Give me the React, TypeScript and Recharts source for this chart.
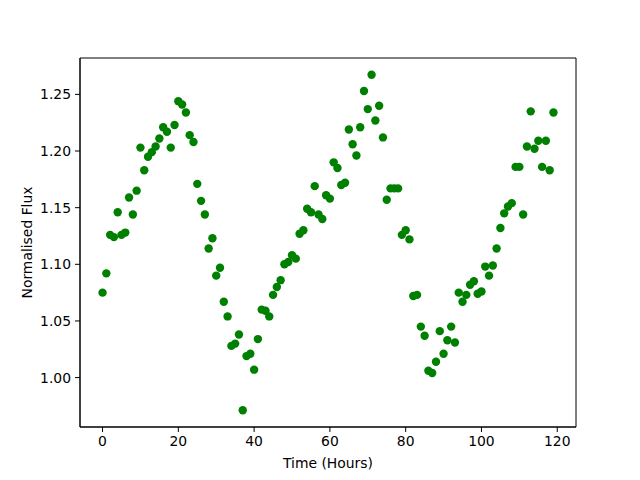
import React from 'react';
import { ScatterChart, Scatter, XAxis, YAxis, ReferenceArea } from 'recharts';

const times = [
  0, 1, 2, 3, 4, 5, 6, 7, 8, 9,
  10, 11, 12, 13, 14, 15, 16, 17, 18, 19,
  20, 21, 22, 23, 24, 25, 26, 27, 28, 29,
  30, 31, 32, 33, 34, 35, 36, 37, 38, 39,
  40, 41, 42, 43, 44, 45, 46, 47, 48, 49,
  50, 51, 52, 53, 54, 55, 56, 57, 58, 59,
  60, 61, 62, 63, 64, 65, 66, 67, 68, 69,
  70, 71, 72, 73, 74, 75, 76, 77, 78, 79,
  80, 81, 82, 83, 84, 85, 86, 87, 88, 89,
  90, 91, 92, 93, 94, 95, 96, 97, 98, 99,
  100, 101, 102, 103, 104, 105, 106, 107, 108, 109,
  110, 111, 112, 113, 114, 115, 116, 117, 118, 119,
];

const flux = [
  1.075, 1.092, 1.126, 1.124, 1.146, 1.126, 1.128, 1.159, 1.144, 1.165,
  1.203, 1.183, 1.195, 1.199, 1.204, 1.211, 1.221, 1.217, 1.203, 1.223,
  1.244, 1.241, 1.234, 1.214, 1.208, 1.171, 1.156, 1.144, 1.114, 1.123,
  1.090, 1.097, 1.067, 1.054, 1.028, 1.030, 1.038, 0.9712, 1.019, 1.021,
  1.007, 1.034, 1.060, 1.059, 1.054, 1.073, 1.080, 1.086, 1.100, 1.102,
  1.108, 1.105, 1.127, 1.130, 1.149, 1.146, 1.169, 1.144, 1.140, 1.161,
  1.158, 1.190, 1.185, 1.170, 1.172, 1.219, 1.206, 1.196, 1.221, 1.253,
  1.237, 1.2673, 1.227, 1.240, 1.212, 1.157, 1.167, 1.167, 1.167, 1.126,
  1.130, 1.122, 1.072, 1.073, 1.045, 1.037, 1.006, 1.004, 1.014, 1.041,
  1.021, 1.033, 1.045, 1.031, 1.075, 1.067, 1.073, 1.082, 1.085, 1.074,
  1.076, 1.098, 1.090, 1.099, 1.114, 1.132, 1.145, 1.151, 1.154, 1.186,
  1.186, 1.144, 1.204, 1.235, 1.202, 1.209, 1.186, 1.209, 1.183, 1.234,
];

const xTicks = [0, 20, 40, 60, 80, 100, 120];
const yTicks = [1.0, 1.05, 1.1, 1.15, 1.2, 1.25];

const xDomain: [number, number] = [-5.95, 124.95];
const yDomain: [number, number] = [0.9564, 1.2821];

const data = times.map((t, i) => ({ t, f: flux[i] }));

const font = { fontFamily: 'DejaVu Sans', fontSize: 13.9, fill: '#000' };

const Dot = (props: any) => (
  <circle cx={props.cx} cy={props.cy} r={4.2} fill="#008000" />
);

export default function App() {
  return (
    <div style={{ position: 'absolute', left: 0, top: 0, background: '#fff' }}>
      <ScatterChart width={640} height={480} margin={{ top: 58, right: 64, bottom: 8, left: 20 }}>
        <XAxis
          type="number"
          dataKey="t"
          domain={xDomain}
          ticks={xTicks}
          allowDataOverflow
          height={45}
          tickSize={5}
          tickMargin={4}
          stroke="#000"
          tick={font}
          tickLine={{ stroke: '#000' }}
          axisLine={{ stroke: '#000' }}
          label={{
            content: (p: any) => {
              const vb = p.viewBox;
              return (
                <text
                  x={vb.x + vb.width / 2}
                  y={vb.y + 36}
                  textAnchor="middle"
                  dominantBaseline="central"
                  style={{ fontFamily: 'DejaVu Sans', fontSize: 13.9 }}
                  fill="#000"
                >
                  Time (Hours)
                </text>
              );
            },
          }}
        />
        <YAxis
          type="number"
          dataKey="f"
          domain={yDomain}
          ticks={yTicks}
          allowDataOverflow
          width={60}
          tickSize={5}
          tickMargin={4}
          stroke="#000"
          tick={font}
          tickLine={{ stroke: '#000' }}
          axisLine={{ stroke: '#000' }}
          tickFormatter={(v: number) => v.toFixed(2)}
          label={{
            content: (p: any) => {
              const vb = p.viewBox;
              const cx = vb.x + 7;
              const cy = vb.y + vb.height / 2;
              return (
                <text
                  x={cx}
                  y={cy}
                  transform={`rotate(-90, ${cx}, ${cy})`}
                  textAnchor="middle"
                  dominantBaseline="central"
                  style={{ fontFamily: 'DejaVu Sans', fontSize: 13.9 }}
                  fill="#000"
                >
                  Normalised Flux
                </text>
              );
            },
          }}
        />
        <ReferenceArea
          x1={xDomain[0]}
          x2={xDomain[1]}
          y1={yDomain[0]}
          y2={yDomain[1]}
          fill="none"
          stroke="#000"
          strokeWidth={1}
          ifOverflow="visible"
        />
        <Scatter data={data} shape={Dot} isAnimationActive={false} />
      </ScatterChart>
    </div>
  );
}
